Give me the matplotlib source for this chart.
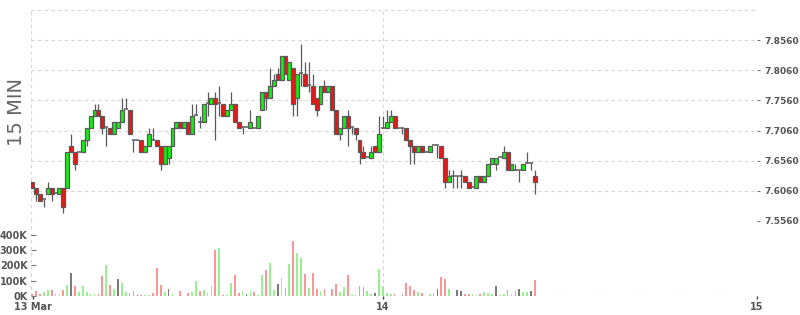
import numpy as np
import pandas as pd
import matplotlib
matplotlib.use("Agg")
import matplotlib.pyplot as plt

# 15 minute bars, 13 Mar 01:30 onwards
start = "2024-03-13 01:30"
opens = [7.62, 7.61, 7.60, 7.592, 7.60, 7.61, 7.602, 7.60, 7.61, 7.61,
         7.68, 7.67, 7.67, 7.67, 7.69, 7.71, 7.73, 7.74, 7.73, 7.712,
         7.71, 7.70, 7.71, 7.72, 7.742, 7.74, 7.69, 7.69, 7.69, 7.67,
         7.68, 7.69, 7.69, 7.68, 7.65, 7.66, 7.68, 7.71, 7.72, 7.71,
         7.72, 7.70, 7.732, 7.72, 7.72, 7.752, 7.75, 7.76, 7.752, 7.75,
         7.73, 7.74, 7.75, 7.72, 7.712, 7.712, 7.71, 7.71, 7.71, 7.74,
         7.77, 7.76, 7.78, 7.80, 7.79, 7.83, 7.79, 7.81, 7.76, 7.802,
         7.80, 7.782, 7.78, 7.76, 7.75, 7.78, 7.77, 7.78, 7.74, 7.70,
         7.71, 7.73, 7.712, 7.71, 7.69, 7.67, 7.662, 7.66, 7.68, 7.67,
         7.71, 7.71, 7.72, 7.73, 7.71, 7.71, 7.71, 7.69, 7.68, 7.67,
         7.68, 7.67, 7.67, 7.682, 7.682, 7.68, 7.66, 7.62, 7.63, 7.63,
         7.63, 7.63, 7.62, 7.612, 7.61, 7.63, 7.62, 7.63, 7.65, 7.65,
         7.662, 7.66, 7.67, 7.64, 7.64, 7.64, 7.64, 7.652, 7.652, 7.63]
highs = [7.62, 7.61, 7.60, 7.592, 7.62, 7.61, 7.602, 7.61, 7.61, 7.67,
         7.70, 7.67, 7.67, 7.69, 7.71, 7.73, 7.75, 7.75, 7.73, 7.712,
         7.71, 7.72, 7.72, 7.76, 7.76, 7.74, 7.69, 7.69, 7.69, 7.68,
         7.71, 7.71, 7.69, 7.68, 7.68, 7.68, 7.71, 7.72, 7.72, 7.72,
         7.72, 7.75, 7.75, 7.73, 7.75, 7.77, 7.76, 7.77, 7.78, 7.75,
         7.74, 7.77, 7.75, 7.72, 7.712, 7.712, 7.74, 7.71, 7.73, 7.77,
         7.77, 7.81, 7.80, 7.81, 7.83, 7.83, 7.82, 7.81, 7.80, 7.85,
         7.82, 7.82, 7.80, 7.76, 7.78, 7.79, 7.78, 7.78, 7.74, 7.71,
         7.73, 7.74, 7.712, 7.71, 7.69, 7.68, 7.662, 7.68, 7.68, 7.73,
         7.73, 7.74, 7.74, 7.73, 7.71, 7.71, 7.71, 7.69, 7.68, 7.68,
         7.68, 7.67, 7.68, 7.682, 7.682, 7.68, 7.66, 7.64, 7.64, 7.63,
         7.64, 7.63, 7.62, 7.612, 7.63, 7.63, 7.63, 7.65, 7.66, 7.66,
         7.662, 7.68, 7.67, 7.65, 7.65, 7.64, 7.65, 7.67, 7.652, 7.64]
lows = [7.61, 7.59, 7.59, 7.58, 7.60, 7.59, 7.602, 7.60, 7.57, 7.61,
        7.67, 7.64, 7.67, 7.67, 7.68, 7.71, 7.73, 7.73, 7.70, 7.68,
        7.70, 7.70, 7.71, 7.72, 7.742, 7.70, 7.67, 7.69, 7.67, 7.67,
        7.68, 7.69, 7.68, 7.64, 7.65, 7.65, 7.68, 7.71, 7.71, 7.71,
        7.70, 7.70, 7.732, 7.71, 7.72, 7.73, 7.75, 7.69, 7.73, 7.73,
        7.73, 7.74, 7.72, 7.71, 7.70, 7.712, 7.71, 7.71, 7.71, 7.74,
        7.74, 7.76, 7.78, 7.79, 7.79, 7.80, 7.79, 7.73, 7.73, 7.78,
        7.78, 7.77, 7.75, 7.73, 7.75, 7.77, 7.77, 7.74, 7.70, 7.69,
        7.71, 7.68, 7.70, 7.69, 7.65, 7.66, 7.662, 7.66, 7.67, 7.67,
        7.71, 7.71, 7.72, 7.71, 7.71, 7.70, 7.69, 7.65, 7.65, 7.67,
        7.67, 7.67, 7.67, 7.682, 7.66, 7.66, 7.61, 7.62, 7.61, 7.61,
        7.61, 7.62, 7.61, 7.612, 7.61, 7.62, 7.62, 7.63, 7.65, 7.64,
        7.662, 7.66, 7.64, 7.64, 7.64, 7.62, 7.64, 7.652, 7.64, 7.60]
closes = [7.61, 7.60, 7.59, 7.592, 7.61, 7.60, 7.602, 7.61, 7.58, 7.67,
          7.67, 7.65, 7.67, 7.69, 7.71, 7.73, 7.74, 7.73, 7.71, 7.712,
          7.70, 7.72, 7.72, 7.74, 7.742, 7.70, 7.69, 7.69, 7.67, 7.68,
          7.70, 7.69, 7.68, 7.65, 7.68, 7.68, 7.71, 7.72, 7.71, 7.72,
          7.70, 7.73, 7.732, 7.72, 7.75, 7.752, 7.76, 7.75, 7.752, 7.73,
          7.74, 7.75, 7.72, 7.71, 7.712, 7.712, 7.72, 7.71, 7.73, 7.77,
          7.76, 7.78, 7.79, 7.79, 7.83, 7.80, 7.82, 7.75, 7.80, 7.802,
          7.78, 7.782, 7.75, 7.74, 7.78, 7.77, 7.78, 7.74, 7.70, 7.71,
          7.73, 7.71, 7.712, 7.70, 7.67, 7.66, 7.662, 7.67, 7.67, 7.70,
          7.71, 7.72, 7.73, 7.71, 7.71, 7.71, 7.69, 7.68, 7.67, 7.68,
          7.67, 7.67, 7.68, 7.682, 7.682, 7.66, 7.62, 7.63, 7.63, 7.63,
          7.63, 7.62, 7.61, 7.612, 7.63, 7.62, 7.63, 7.65, 7.66, 7.66,
          7.662, 7.67, 7.64, 7.65, 7.64, 7.64, 7.65, 7.652, 7.652, 7.62]
volume_k = [10, 30, 11, 24, 37, 37, 11, 11, 37, 72,
            148, 63, 24, 63, 24, 15, 15, 15, 128, 200,
            70, 43, 109, 87, 28, 22, 35, 9, 9, 7,
            9, 22, 184, 74, 28, 48, 15, 2, 35, 2,
            22, 28, 100, 35, 41, 22, 67, 302, 315, 9,
            9, 87, 139, 22, 35, 15, 35, 28, 9, 139,
            171, 217, 41, 80, 119, 54, 210, 360, 280, 248,
            143, 52, 150, 45, 30, 45, 3, 45, 78, 24,
            59, 137, 5, 5, 65, 58, 30, 12, 19, 176,
            66, 22, 16, 10, 1, 4, 82, 63, 37, 24,
            17, 1, 11, 17, 43, 121, 108, 43, 2, 37,
            30, 11, 11, 11, 4, 11, 24, 17, 11, 63,
            4, 11, 37, 11, 30, 43, 24, 24, 30, 102]
price_ticks = [7.556, 7.606, 7.656, 7.706, 7.756, 7.806, 7.856]
vol_ticks_k = [0, 100, 200, 300, 400]
day_labels = ["13 Mar", "14", "15"]

o = np.array(opens)
h = np.array(highs)
l = np.array(lows)
c = np.array(closes)
vol = np.array(volume_k) * 1000

times = pd.date_range(start, periods=len(c), freq="15min")
step = pd.Timedelta("15min")
x = np.arange(len(c))
day_pos = [0.3,
           (pd.Timestamp("2024-03-14") - times[0]) / step,
           (pd.Timestamp("2024-03-15") - times[0]) / step]

plt.rcParams["font.family"] = "DejaVu Sans"
plt.rcParams["font.weight"] = "bold"

EDGE = "#5a5a5a"
GRID = "#d4d4d4"
TXT = "#555555"
dash = (0, (3, 3))

fig = plt.figure(figsize=(8, 3.15), dpi=100)
ax = fig.add_axes([31 / 800, 1 - 221 / 315, 726 / 800, 211 / 315])
axv = fig.add_axes([31 / 800, 1 - 296 / 315, 726 / 800, 75 / 315], sharex=ax)

x0, x1 = -0.3, day_pos[2]
ax.set_xlim(x0, x1)
ax.set_ylim(7.556, 7.906)
axv.set_ylim(0, 490000)

# grid / frame as dashed lines
for a in (ax, axv):
    for s in a.spines.values():
        s.set_visible(False)
    for xv in (x0, day_pos[1], x1):
        a.axvline(xv, color=GRID, ls=dash, lw=0.8, zorder=0)
for p in price_ticks + [7.906]:
    ax.axhline(p, color=GRID, ls=dash, lw=0.8, zorder=0)
axv.axhline(0, color=GRID, ls=dash, lw=0.8, zorder=0)

# candles
up = c > o + 1e-9
dn = c < o - 1e-9
flat = ~(up | dn)
ax.vlines(x, l, h, color=EDGE, lw=0.9, zorder=2)
ax.bar(x[up], (c - o)[up], bottom=o[up], width=1.0, color="#12ee12",
       edgecolor=EDGE, linewidth=0.9, zorder=3)
ax.bar(x[dn], (c - o)[dn], bottom=o[dn], width=1.0, color="#ee1414",
       edgecolor=EDGE, linewidth=0.9, zorder=3)
ax.hlines(c[flat], x[flat] - 0.5, x[flat] + 0.5, color=EDGE, lw=1.1, zorder=3)

# volume coloured against previous close
prev = np.r_[o[0], c[:-1]]
vcol = np.where(c > prev + 1e-9, "#98f08f",
                np.where(c < prev - 1e-9, "#fa9696", "#7a7a7a"))
axv.bar(x, vol, width=0.45, color=vcol, zorder=2)

# axes text
ax.yaxis.tick_right()
ax.set_yticks(price_ticks)
ax.set_yticklabels([f"{p:.4f}" for p in price_ticks])
ax.tick_params(axis="y", length=2.2, width=0.8, color="#777777", pad=3,
               labelsize=6.5, labelcolor=TXT)
ax.tick_params(axis="x", bottom=False, labelbottom=False)

axv.set_yticks([v * 1000 for v in vol_ticks_k])
axv.set_yticklabels([f"{v}K" for v in vol_ticks_k])
axv.tick_params(axis="y", direction="in", length=3.5, width=0.8, color="#777777",
                pad=2.5, labelsize=7, labelcolor=TXT)
axv.set_xticks(day_pos)
axv.set_xticklabels(day_labels)
axv.tick_params(axis="x", length=2.5, width=1, color="#444444", pad=1.5,
                labelsize=7, labelcolor=TXT)

fig.text(16.5 / 800, 1 - 112 / 315, "15 MIN", rotation=90, fontsize=14,
         fontweight="normal", color="#666666", ha="center", va="center")

fig.savefig("out.png", dpi=100)
